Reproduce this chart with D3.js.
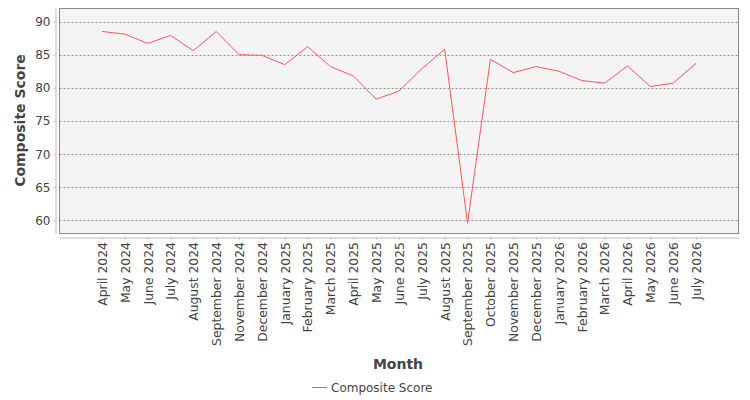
<!DOCTYPE html>
<html>
<head>
<meta charset="utf-8">
<script src="https://cdn.jsdelivr.net/npm/d3@7"></script>
<style>
  body { margin: 0; background: #fff; }
  text { font-family: "DejaVu Sans", sans-serif; }
</style>
</head>
<body>
<svg id="chart" width="750" height="400"></svg>
<script>
// months on the category axis (no October 2024 in the data)
var months = ["April 2024", "May 2024", "June 2024", "July 2024", "August 2024",
  "September 2024", "November 2024", "December 2024", "January 2025", "February 2025",
  "March 2025", "April 2025", "May 2025", "June 2025", "July 2025", "August 2025",
  "September 2025", "October 2025", "November 2025", "December 2025", "January 2026",
  "February 2026", "March 2026", "April 2026", "May 2026", "June 2026", "July 2026"];

var scores = [88.5, 88.1, 86.7, 87.9, 85.6, 88.5, 85.0, 84.9, 83.5, 86.2,
  83.2, 81.8, 78.3, 79.5, 82.9, 85.8, 59.6, 84.3, 82.3, 83.2,
  82.5, 81.1, 80.7, 83.3, 80.2, 80.7, 83.7];

var yTicks = [60, 65, 70, 75, 80, 85, 90];
var seriesName = "Composite Score";

var svg = d3.select("#chart");
var plot = { left: 59.5, right: 738.5, top: 8.5, bottom: 233.5 };

// scales
var x = d3.scalePoint()
  .domain(months)
  .range([plot.left, plot.right])
  .padding(1.86);

var y = d3.scaleLinear()
  .domain([58.04, 91.96])
  .range([plot.bottom, plot.top]);

// plot background
svg.append("rect")
  .attr("x", plot.left)
  .attr("y", plot.top)
  .attr("width", plot.right - plot.left)
  .attr("height", plot.bottom - plot.top)
  .style("fill", "#f4f4f4");

// horizontal gridlines
svg.selectAll(".grid")
  .data(yTicks)
  .enter().append("line")
  .attr("class", "grid")
  .attr("x1", plot.left)
  .attr("x2", plot.right)
  .attr("y1", function(d) { return Math.round(y(d)) + 0.5; })
  .attr("y2", function(d) { return Math.round(y(d)) + 0.5; })
  .style("stroke", "#777")
  .style("stroke-width", 0.8)
  .style("stroke-dasharray", "2,2");

// outline
svg.append("rect")
  .attr("x", plot.left)
  .attr("y", plot.top)
  .attr("width", plot.right - plot.left)
  .attr("height", plot.bottom - plot.top)
  .style("fill", "none")
  .style("stroke", "#888");

// y axis (offset to the left of the plot)
var yAxis = svg.append("g")
  .attr("transform", "translate(55.5,0)")
  .call(d3.axisLeft(y).tickValues(yTicks).tickSize(2).tickPadding(3).tickSizeOuter(0));
yAxis.select(".domain").style("stroke", "#bbb");
yAxis.selectAll(".tick line").style("stroke", "#bbb");
yAxis.selectAll("text")
  .style("font-size", "12px")
  .style("fill", "#444");

// x axis (offset below the plot)
var xAxis = svg.append("g")
  .attr("transform", "translate(0,237.5)")
  .call(d3.axisBottom(x).tickSize(2).tickSizeOuter(0));
xAxis.select(".domain").style("stroke", "#bbb");
xAxis.selectAll(".tick line").style("stroke", "#bbb");
xAxis.selectAll("text")
  .style("font-size", "12.4px")
  .style("fill", "#444")
  .style("text-anchor", "end")
  .attr("x", -4.5)
  .attr("y", 0)
  .attr("dy", "0.35em")
  .attr("transform", "rotate(-90)");

// series line
var line = d3.line()
  .x(function(d, i) { return x(months[i]); })
  .y(function(d) { return y(d); });

svg.append("path")
  .datum(scores)
  .attr("d", line)
  .style("fill", "none")
  .style("stroke", "#ff5555")
  .style("stroke-width", 1);

// axis titles
svg.append("text")
  .attr("transform", "rotate(-90)")
  .attr("x", -120.5)
  .attr("y", 25)
  .attr("text-anchor", "middle")
  .style("font-size", "14px")
  .style("font-weight", "bold")
  .style("fill", "#444")
  .text("Composite Score");

svg.append("text")
  .attr("x", 398)
  .attr("y", 369)
  .attr("text-anchor", "middle")
  .style("font-size", "14px")
  .style("font-weight", "bold")
  .style("fill", "#444")
  .text("Month");

// legend
svg.append("line")
  .attr("x1", 312)
  .attr("x2", 327)
  .attr("y1", 387.5)
  .attr("y2", 387.5)
  .style("stroke", "#ff5555");

svg.append("text")
  .attr("x", 331)
  .attr("y", 392)
  .style("font-size", "12px")
  .style("fill", "#444")
  .text(seriesName);
</script>
</body>
</html>
